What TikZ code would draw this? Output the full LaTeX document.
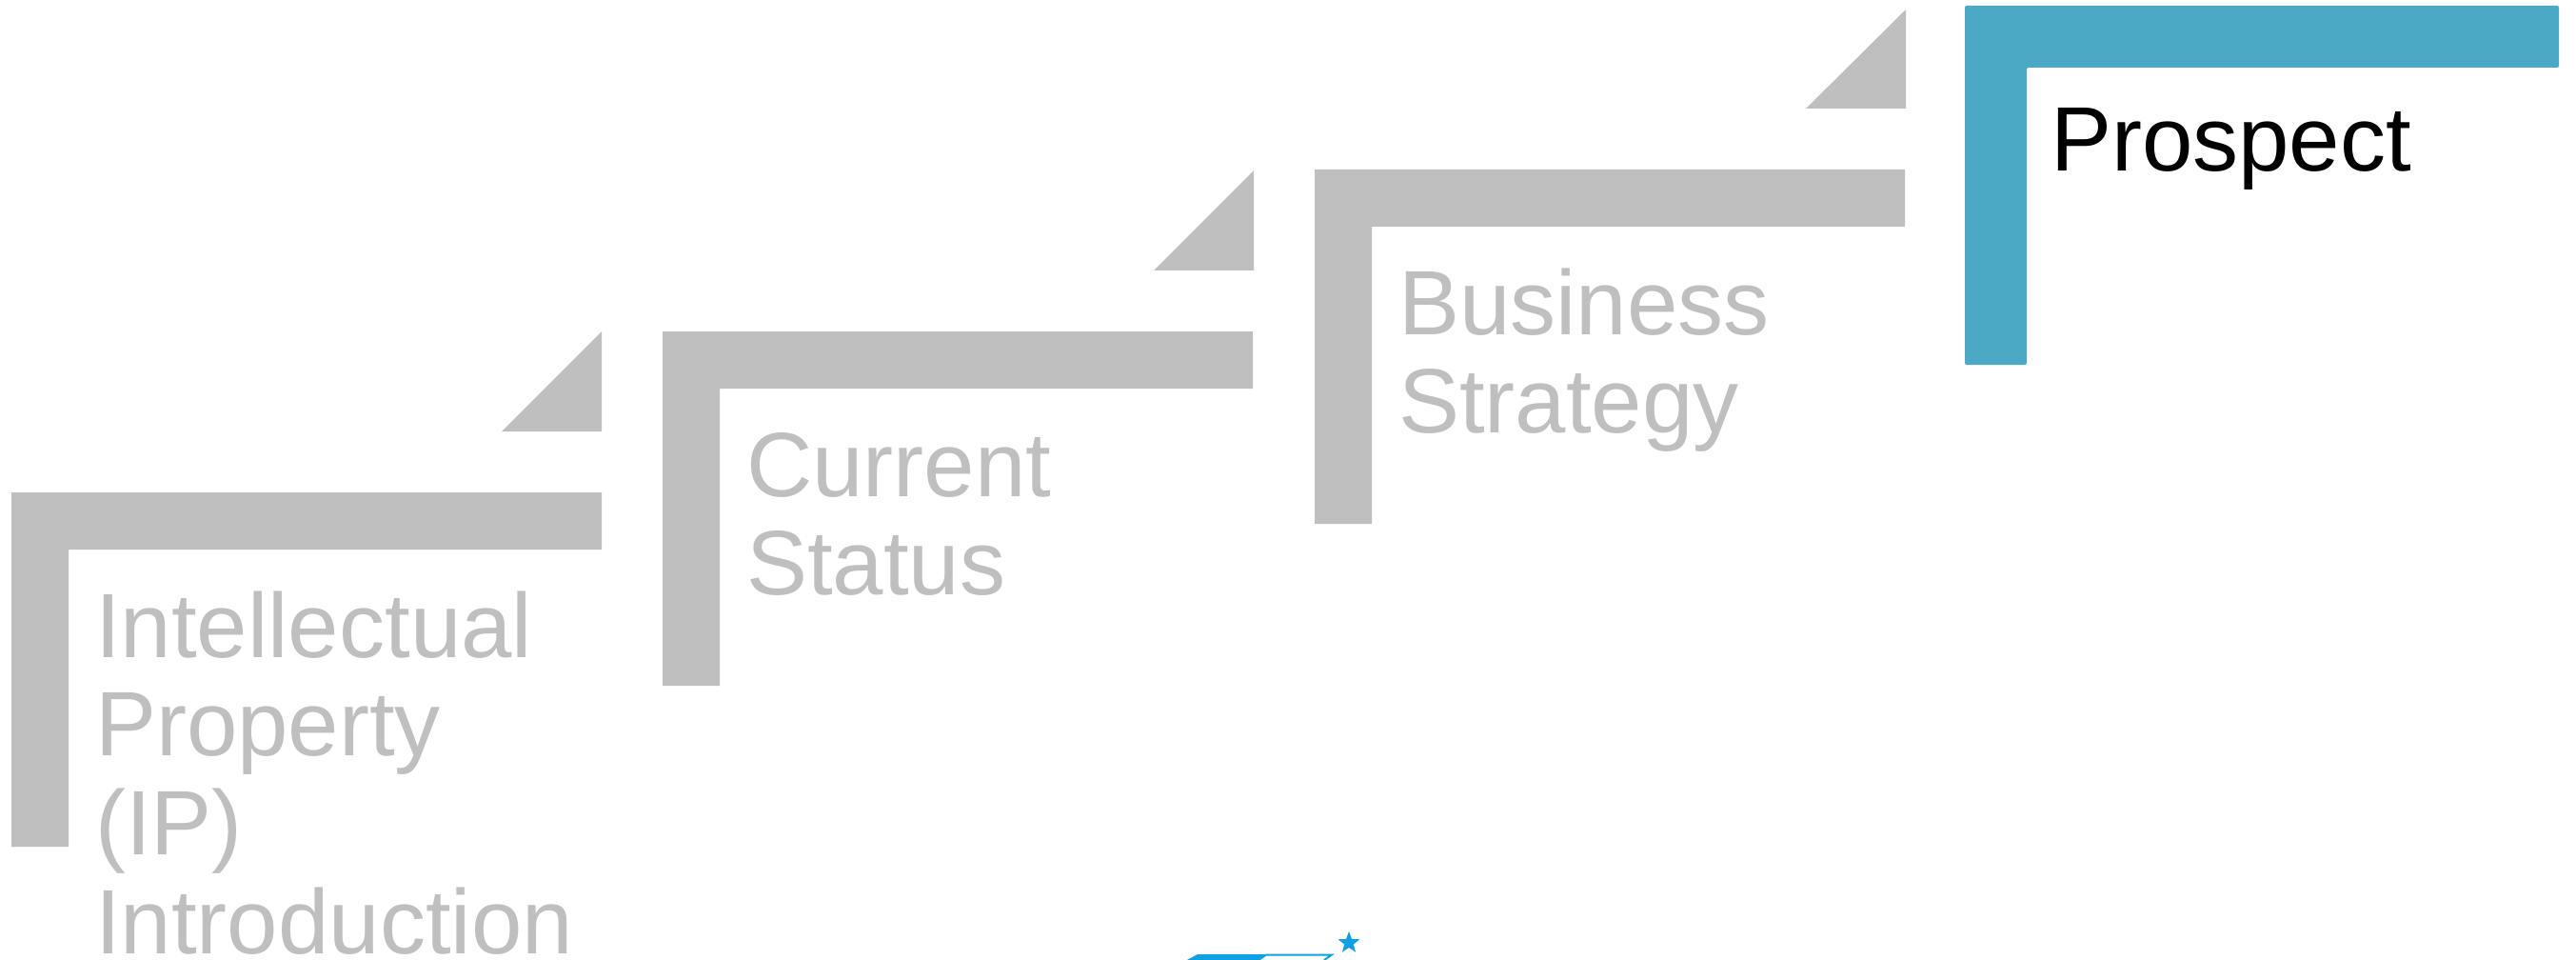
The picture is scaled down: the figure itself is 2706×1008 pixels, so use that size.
\documentclass[tikz,border=0pt]{standalone}
\usepackage{fontspec}
\setmainfont{Liberation Sans}
\usetikzlibrary{shapes.geometric}
\definecolor{stepgrey}{HTML}{BFBFBF}
\definecolor{stepblue}{HTML}{4BA9C6}
\definecolor{logoblue}{HTML}{0EA0E0}
\begin{document}
\begin{tikzpicture}[x=1pt,y=-1pt,
  lbl/.style={anchor=base west, inner sep=0pt, align=left,
              font=\fontsize{96}{103.7}\selectfont},
  greystep/.style={fill=stepgrey},
  bluestep/.style={fill=stepblue, rounded corners=2pt}]
\useasboundingbox (0,0) rectangle (2706,1008);
\clip (0,0) rectangle (2706,1008);
\fill[white] (0,0) rectangle (2706,1008);
% step 1
\fill[greystep] (12,517) -- (632,517) -- (632,577) -- (72,577) -- (72,889) -- (12,889) -- cycle;
\fill[greystep] (527,453) -- (632,453) -- (632,348) -- cycle;
% step 2
\fill[greystep] (696,348) -- (1316,348) -- (1316,408) -- (756,408) -- (756,720) -- (696,720) -- cycle;
\fill[greystep] (1212,284) -- (1317,284) -- (1317,179) -- cycle;
% step 3
\fill[greystep] (1381,178) -- (2001,178) -- (2001,238) -- (1441,238) -- (1441,550) -- (1381,550) -- cycle;
\fill[greystep] (1897,114) -- (2002,114) -- (2002,10) -- cycle;
% step 4
\fill[bluestep] (2064,6) -- (2688,6) -- (2688,71) -- (2129,71) -- (2129,383) -- (2064,383) -- cycle;
% labels (base anchor = baseline of the last line)
\node[lbl, text=stepgrey] (ip) at (100,1001.1) {Intellectual\\Property\\(IP)\\Introduction};
\node[lbl, text=stepgrey] (cs) at (784,624.7) {Current\\Status};
\node[lbl, text=stepgrey] (bs) at (1469,454.7) {Business\\Strategy};
\node[lbl, text=black] (pr) at (2154,180) {Prospect};
% logo fragment
\fill[logoblue] (1247,1008) -- (1258,1002) -- (1330,1002) -- (1322,1008) -- cycle;
\draw[logoblue, line width=2pt] (1322,1008) -- (1330,1002.5) -- (1399,1002.5) -- (1391,1008);
\node[star, star points=5, star point ratio=2.4, fill=logoblue, minimum size=24pt, inner sep=0pt] (logostar) at (1417,990) {};
\end{tikzpicture}
\end{document}
